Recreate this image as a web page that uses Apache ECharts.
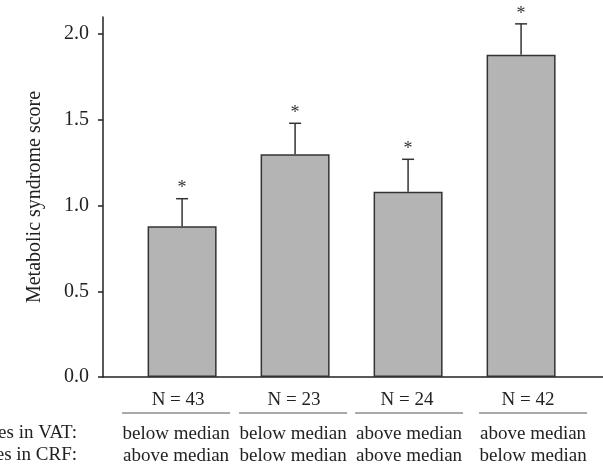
<!DOCTYPE html>
<html>
<head>
<meta charset="utf-8">
<script src="https://cdn.jsdelivr.net/npm/echarts@6/dist/echarts.min.js"></script>
<style>html,body{margin:0;padding:0;background:#fff;}#c{width:603px;height:466px;}</style>
</head>
<body>
<div id="c"></div>
<script>
const groupPos = [1, 2, 3, 4];
const groupN = ['N = 43', 'N = 23', 'N = 24', 'N = 42'];
const vatLabels = ['below median', 'below median', 'above median', 'above median'];
const crfLabels = ['above median', 'below median', 'above median', 'below median'];
const meanScore = [0.88, 1.30, 1.08, 1.88];
const errorUpper = [1.04, 1.48, 1.27, 2.06];
const significance = ['*', '*', '*', '*'];
const yTicks = [0, 0.5, 1.0, 1.5, 2.0];
const rowTitles = ['es in VAT:', 'es in CRF:'];
const yTitle = 'Metabolic syndrome score';

const FONT = 'Liberation Serif';
const INK = '#222';
// small per-column pixel nudges of the label block relative to the bar centre
const nShift = [-4, -1, -1, 7];
const colShift = [-6, -2, 1, 12];

const chart = echarts.init(document.getElementById('c'));
chart.setOption({
  animation: false,
  backgroundColor: '#fff',
  grid: { left: 103, right: 0, top: 17, bottom: 89 },
  xAxis: {
    type: 'value', min: 0.3, max: 4.725,
    axisLine: { show: true, onZero: true, lineStyle: { color: INK, width: 1.5 } },
    axisTick: { show: false }, axisLabel: { show: false }, splitLine: { show: false }
  },
  yAxis: {
    type: 'value', min: 0, max: 2.1, interval: 0.5,
    name: yTitle, nameLocation: 'middle', nameGap: 58, nameRotate: 90,
    nameTextStyle: { fontFamily: FONT, fontSize: 20, color: INK },
    axisLine: { show: true, lineStyle: { color: INK, width: 1.5 } },
    axisTick: { show: true, inside: false, length: 5, customValues: yTicks, lineStyle: { color: INK, width: 1.5 } },
    axisLabel: { show: true, margin: 14, customValues: yTicks, fontFamily: FONT, fontSize: 20, color: INK,
      formatter: v => v.toFixed(1) },
    splitLine: { show: false }
  },
  series: [
    {
      type: 'bar',
      data: groupPos.map((x, i) => [x, meanScore[i]]),
      barWidth: 69,
      itemStyle: { color: '#b4b4b4', borderColor: '#333', borderWidth: 1.5 },
      z: 2
    },
    {
      type: 'custom',
      clip: false,
      data: groupPos.map((x, i) => [x, meanScore[i], errorUpper[i]]),
      renderItem: function (params, api) {
        const top = api.coord([api.value(0), api.value(2)]);
        const base = api.coord([api.value(0), api.value(1)]);
        const i = params.dataIndex;
        return {
          type: 'group',
          children: [
            { type: 'line', shape: { x1: base[0], y1: base[1], x2: top[0], y2: top[1] }, style: { stroke: '#333', lineWidth: 1.5 } },
            { type: 'line', shape: { x1: top[0] - 6, y1: top[1], x2: top[0] + 6, y2: top[1] }, style: { stroke: '#333', lineWidth: 1.5 } },
            { type: 'text', style: { text: significance[i], x: top[0], y: top[1] - 10, align: 'center', verticalAlign: 'middle',
              font: '18px "' + FONT + '"', fill: '#333' } }
          ]
        };
      },
      z: 3
    },
    {
      type: 'custom',
      clip: false,
      data: groupPos.map(x => [x, 0]),
      renderItem: function (params, api) {
        const p = api.coord([api.value(0), 0]);
        const i = params.dataIndex;
        const cx = p[0] + colShift[i];
        const font = '19px "' + FONT + '"';
        return {
          type: 'group',
          children: [
            { type: 'text', style: { text: groupN[i], x: p[0] + nShift[i], y: p[1] + 23, align: 'center', verticalAlign: 'middle', font: font, fill: INK } },
            { type: 'line', shape: { x1: cx - 54, y1: p[1] + 36, x2: cx + 54, y2: p[1] + 36 }, style: { stroke: '#555', lineWidth: 1.2 } },
            { type: 'text', style: { text: vatLabels[i], x: cx, y: p[1] + 57, align: 'center', verticalAlign: 'middle', font: font, fill: INK } },
            { type: 'text', style: { text: crfLabels[i], x: cx, y: p[1] + 79, align: 'center', verticalAlign: 'middle', font: font, fill: INK } }
          ]
        };
      }
    }
  ],
  graphic: [
    { type: 'text', right: 603 - 77, top: 424, style: { text: rowTitles[0], font: '19px "' + FONT + '"', fill: INK, align: 'right' } },
    { type: 'text', right: 603 - 77, top: 446, style: { text: rowTitles[1], font: '19px "' + FONT + '"', fill: INK, align: 'right' } }
  ]
});
</script>
</body>
</html>
